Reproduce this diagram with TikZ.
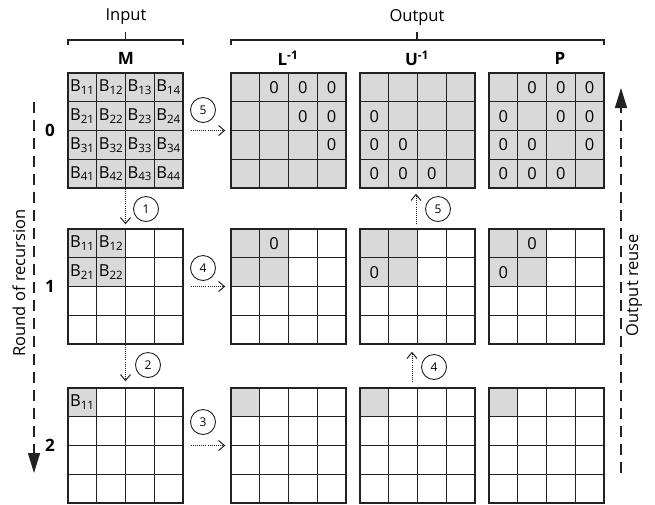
\documentclass[tikz,border=0pt]{standalone}
\usepackage{fontspec}
\setmainfont{Open Sans}
\usetikzlibrary{positioning,arrows.meta}
\definecolor{ink}{HTML}{222222}
\definecolor{cellgray}{HTML}{D9D9D9}

% #1 name, #2 left, #3 top, #4 size of the shaded block, #5 cell text
\newcommand{\blockgrid}[5]{%
  \foreach \i in {1,...,4}{\foreach \j in {1,...,4}{%
    \def\cellst{shaded}\def\celltxt{#5}%
    \ifnum\i>#4\relax \def\cellst{cell}\def\celltxt{}\fi
    \ifnum\j>#4\relax \def\cellst{cell}\def\celltxt{}\fi
    \node[\cellst] (#1-\i\j) at ({#2+(\j-0.5)*28.75},{#3+(\i-0.5)*28.75}) {\celltxt};
  }}%
  \node[gridbox] (#1) at ({#2+57.5},{#3+57.5}) {};%
}

\begin{document}
\begin{tikzpicture}[x=1pt, y=-1pt,
  cell/.style={draw=ink, line width=1.4pt, minimum size=28.75pt, inner sep=0pt, fill=white, font=\fontsize{16.5}{16.5}\selectfont},
  shaded/.style={cell, fill=cellgray},
  gridbox/.style={draw=ink, line width=1.4pt, minimum size=115pt, inner sep=0pt},
  hdr/.style={font=\fontsize{17}{17}\selectfont\bfseries},
  grouplbl/.style={font=\fontsize{16.5}{16.5}\selectfont},
  rowlbl/.style={font=\fontsize{17}{17}\selectfont\bfseries},
  sidelbl/.style={font=\fontsize{16.5}{16.5}\selectfont, rotate=90},
  stepnum/.style={circle, draw=ink, line width=0.9pt, minimum size=25pt, inner sep=0pt, font=\fontsize{12}{12}\selectfont},
  flow/.style={draw=ink, line width=1pt, dash pattern=on 1pt off 1.1pt, -{Straight Barb[length=6pt,width=10pt]}},
  axis/.style={draw=ink, line width=1.4pt, dash pattern=on 11pt off 7pt, -{Triangle[length=20pt,width=12pt]}},
  brkt/.style={draw=ink, line width=1.4pt}
]
  \useasboundingbox (0,0) rectangle (655,504);

  % --- group labels and brackets ---
  \node[grouplbl] (inp) at (126,17) {Input};
  \node[grouplbl] (outp) at (417,17) {Output};
  \draw[brkt] (68,45) -- (68,40) -- (183,40) -- (183,45);
  \draw[brkt] (125.5,40) -- (125.5,32);
  \draw[brkt] (231,45) -- (231,40) -- (604,40) -- (604,45);
  \draw[brkt] (417,40) -- (417,32);

  % --- headers ---
  \node[hdr] (hM) at (126,58) {M};
  \node[hdr] (hL) at (288,58) {L\textsuperscript{-1}};
  \node[hdr] (hU) at (417,58) {U\textsuperscript{-1}};
  \node[hdr] (hP) at (560,58) {P};

  % --- round 0 ---
  \blockgrid{M0}{68}{73}{4}{B\textsubscript{\i\j}}
  \blockgrid{L0}{231}{73}{4}{\ifnum\j>\i\relax 0\fi}
  \blockgrid{U0}{360}{73}{4}{\ifnum\i>\j\relax 0\fi}
  \blockgrid{P0}{489}{73}{4}{\ifnum\i=\j\relax\else 0\fi}

  % --- round 1 ---
  \blockgrid{M1}{68}{229}{2}{B\textsubscript{\i\j}}
  \blockgrid{L1}{231}{229}{2}{\ifnum\j>\i\relax 0\fi}
  \blockgrid{U1}{360}{229}{2}{\ifnum\i>\j\relax 0\fi}
  \blockgrid{P1}{489}{229}{2}{\ifnum\i=\j\relax\else 0\fi}

  % --- round 2 ---
  \blockgrid{M2}{68}{388}{1}{B\textsubscript{\i\j}}
  \blockgrid{L2}{231}{388}{1}{}
  \blockgrid{U2}{360}{388}{1}{}
  \blockgrid{P2}{489}{388}{1}{}

  % --- round numbers ---
  \node[rowlbl, left=9pt of M0] (r0) {0};
  \node[rowlbl, left=9pt of M1] (r1) {1};
  \node[rowlbl, left=9pt of M2] (r2) {2};

  % --- steps ---
  \draw[flow] (M0.south) -- ([yshift=4pt]M1.north);
  \draw[flow] (M1.south) -- ([yshift=6pt]M2.north);
  \draw[flow] ([xshift=7pt]M2.east) -- ([xshift=-5pt]L2.west);
  \draw[flow] ([xshift=7pt]M1.east) -- ([xshift=-5pt]L1.west);
  \draw[flow] ([xshift=7pt]M0.east) -- ([xshift=-5pt]L0.west);
  \draw[flow] ([xshift=-5.5pt,yshift=5pt]U2.north) -- ([xshift=-5.5pt,yshift=-7pt]U1.south);
  \draw[flow] ([xshift=-1.5pt,yshift=4pt]U1.north) -- ([xshift=-1.5pt,yshift=-5pt]U0.south);
  \node[stepnum] (s1) at (146,209) {1};
  \node[stepnum] (s2) at (148,365) {2};
  \node[stepnum] (s3) at (203,422) {3};
  \node[stepnum] (s4) at (203,268) {4};
  \node[stepnum] (s5) at (203,110) {5};
  \node[stepnum] (s4u) at (434,367) {4};
  \node[stepnum] (s5u) at (438,209) {5};

  % --- side axes ---
  \coordinate (recS) at (34,102);
  \coordinate (recE) at (34,473);
  \draw[axis] (recS) -- (recE);
  \node[sidelbl] (rec) at (19,283) {Round of recursion};
  \coordinate (reuS) at (621,473);
  \coordinate (reuE) at (621,88);
  \draw[axis] (reuS) -- (reuE);
  \node[sidelbl] (reu) at (634,285) {Output reuse};
\end{tikzpicture}
\end{document}
